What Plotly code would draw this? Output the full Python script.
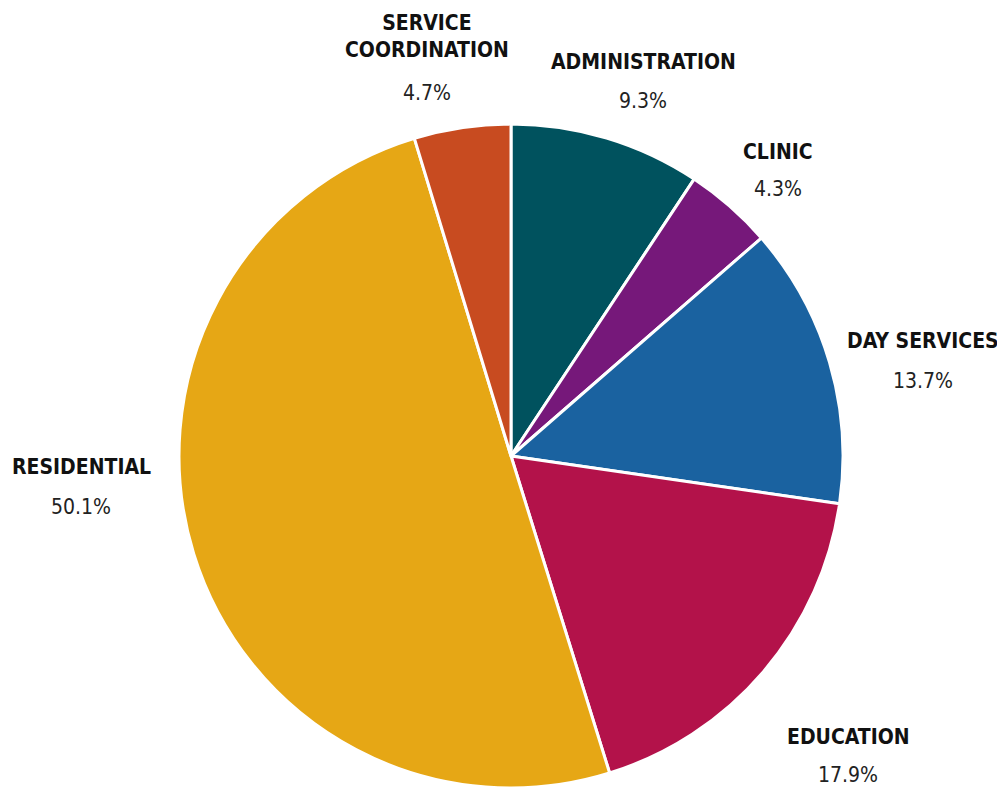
import plotly.graph_objects as go

categories = ["ADMINISTRATION", "CLINIC", "DAY SERVICES", "EDUCATION", "RESIDENTIAL", "SERVICE<br>COORDINATION"]
values = [9.3, 4.3, 13.7, 17.9, 50.1, 4.7]
colors = ["#00525e", "#76187a", "#1a62a0", "#b3124a", "#e6a715", "#c84b20"]
pct_labels = ["9.3%", "4.3%", "13.7%", "17.9%", "50.1%", "4.7%"]

OFF = 8  # page offset of the figure inside the browser window
W, H = 1005 - OFF, 788 - OFF
cx, cy, r = 511 - OFF, 456 - OFF, 332

fig = go.Figure(go.Pie(
    labels=categories, values=values, sort=False, direction="clockwise", rotation=0,
    marker=dict(colors=colors, line=dict(color="white", width=3)),
    textinfo="none", hoverinfo="label+percent", showlegend=False,
    domain=dict(x=[(cx - r) / W, (cx + r) / W], y=[max(0, (H - cy - r) / H), min(1, (H - cy + r) / H)]),
))

# label positions (screen pixel centers): x, name line center, percent center
label_pos = [
    (643, 62, 101),
    (778, 152, 189),
    (923, 341, 381),
    (848, 737, 775),
    (81, 467, 507),
    (427, 37, 93),
]
FONT = "DejaVu Sans Condensed, Liberation Sans Narrow, sans-serif"
for name, pct, (x, y1, y2) in zip(categories, pct_labels, label_pos):
    fig.add_annotation(x=(x - OFF) / W, y=1 - (y1 - OFF) / H, xref="paper", yref="paper",
                       text="<b>" + name + "</b>",
                       showarrow=False, xanchor="center", yanchor="middle",
                       font=dict(family=FONT, size=21, color="#111111"))
    fig.add_annotation(x=(x - OFF) / W, y=1 - (y2 - OFF) / H, xref="paper", yref="paper", text=pct,
                       showarrow=False, xanchor="center", yanchor="middle",
                       font=dict(family=FONT, size=21, color="#222222"))

fig.update_layout(width=W, height=H, margin=dict(l=0, r=0, t=0, b=0),
                  paper_bgcolor="white", plot_bgcolor="white")
fig.write_html("out.html")
